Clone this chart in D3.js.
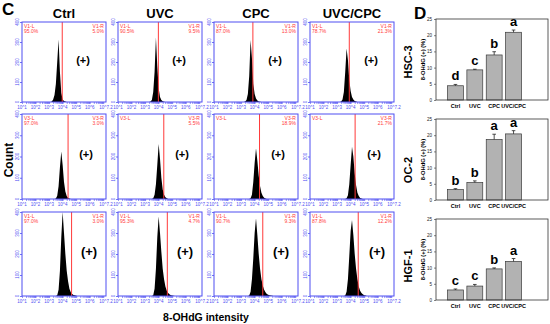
<!DOCTYPE html>
<html>
<head>
<meta charset="utf-8">
<script src="https://cdn.jsdelivr.net/npm/d3@7"></script>
<style>
body { margin: 0; background: #fff; }
svg { display: block; font-family: "Liberation Sans", Arial, sans-serif; }
</style>
</head>
<body>
<svg width="550" height="324"></svg>
<script>
const treatments = ['Ctrl', 'UVC', 'CPC', 'UVC/CPC']
const cellLines = ['HSC-3', 'OC-2', 'HGF-1']

// flow histograms: counts per 0.1 decade bin, first bin at 10^3.0
const binStart = 3.0
const binStep = 0.1
const hsc3Counts = [
    [0, 0, 3, 12, 35, 90, 200, 313, 150, 45, 12, 5, 2, 0],
    [0, 0, 0, 0, 2, 10, 50, 150, 323, 180, 70, 25, 10, 4, 1, 0],
    [0, 0, 0, 2, 10, 40, 130, 310, 220, 90, 40, 18, 8, 3, 1, 0],
    [0, 0, 0, 2, 12, 50, 150, 268, 210, 110, 55, 25, 12, 5, 2, 0]
]
const oc2Counts = [
    [0, 0, 0, 0, 0, 2, 15, 60, 150, 223, 160, 80, 35, 14, 5, 2, 0],
    [0, 0, 0, 0, 0, 0, 3, 20, 70, 160, 259, 190, 100, 45, 20, 8, 3, 0],
    [0, 0, 0, 0, 0, 0, 0, 3, 20, 80, 170, 239, 180, 110, 60, 30, 14, 6, 2, 0],
    [0, 0, 0, 0, 0, 0, 0, 3, 18, 70, 160, 246, 200, 120, 65, 30, 14, 5, 2, 0]
]
const hgf1Counts = [
    [0, 0, 0, 0, 0, 0, 3, 30, 120, 280, 400, 300, 200, 120, 70, 35, 18, 10, 5, 3, 1, 0],
    [0, 0, 0, 0, 0, 0, 3, 35, 130, 280, 378, 300, 210, 130, 80, 45, 25, 14, 8, 4, 2, 1, 0],
    [0, 0, 0, 0, 0, 0, 2, 20, 80, 180, 300, 370, 290, 200, 130, 80, 50, 30, 18, 10, 6, 3, 2, 1, 0],
    [0, 0, 0, 0, 0, 0, 2, 20, 80, 190, 310, 362, 290, 200, 130, 80, 45, 25, 14, 8, 4, 2, 0]
]
// gate position (log10 of intensity)
const gateLog = [
    [3.97, 3.98, 3.87, 3.9],
    [4.4, 4.38, 4.36, 4.33],
    [4.66, 4.64, 4.6, 4.56]
]
const gateNames = ['V1', 'V3', 'V1']
const leftPct = [
    ['95.0%', '90.5%', '87.0%', '78.7%'],
    ['97.0%', '', '', ''],
    ['97.0%', '95.3%', '90.7%', '87.8%']
]
const rightPct = [
    ['5.0%', '9.5%', '13.0%', '21.3%'],
    ['3.0%', '5.5%', '18.9%', '21.7%'],
    ['3.0%', '4.7%', '9.3%', '12.2%']
]
const countTicks = [0, 100, 200, 300, 400]
const decadeLabels = [1, 2, 3, 4, 5, 6, 7]

// bar charts: 8-OHdG (+) (%)
const hsc3Mean = [4.4, 9.3, 13.9, 20.9]
const hsc3Err = [0.4, 0.2, 1.0, 0.7]
const oc2Mean = [3.2, 5.4, 18.7, 20.4]
const oc2Err = [0.3, 0.5, 1.6, 1.0]
const hgf1Mean = [3.1, 4.3, 9.6, 11.9]
const hgf1Err = [0.3, 0.5, 0.3, 0.9]
const hsc3Letters = ['d', 'c', 'b', 'a']
const oc2Letters = ['b', 'b', 'a', 'a']
const hgf1Letters = ['c', 'c', 'b', 'a']
const pctTicks = [0, 5, 10, 15, 20, 25]

const histData = [hsc3Counts, oc2Counts, hgf1Counts]
const barData = [
    { mean: hsc3Mean, err: hsc3Err, letters: hsc3Letters },
    { mean: oc2Mean, err: oc2Err, letters: oc2Letters },
    { mean: hgf1Mean, err: hgf1Err, letters: hgf1Letters }
]

const blue = '#4f4ff2'
const red = '#ff3a3a'

let svg = d3.select('svg')

// ---- panel C: flow histograms ----
let colLeft = [22, 118, 214, 310]
let panelW = 84
let rowTop = [22, 114, 212]
let rowH = [80, 85, 84]

svg.append('text').text('C')
    .attr('x', 2).attr('y', 15)
    .attr('font-size', 17).attr('font-weight', 'bold')

treatments.forEach((t, c) => {
    svg.append('text').text(t)
        .attr('x', colLeft[c] + panelW / 2).attr('y', 18)
        .attr('text-anchor', 'middle')
        .attr('font-size', 13).attr('font-weight', 'bold')
})

let minorTicks = []
for (let d = 1; d <= 7; d++) {
    for (let k = 1; k <= 9; k++) {
        let v = k * Math.pow(10, d)
        if (v <= Math.pow(10, 7.2)) minorTicks.push(v)
    }
}

histData.forEach((row, r) => {
    row.forEach((counts, c) => {
        let left = colLeft[c]
        let top = rowTop[r]
        let h = rowH[r]
        let x = d3.scaleLog()
            .domain([10, Math.pow(10, 7.2)])
            .range([left, left + panelW])
        let y = d3.scaleLinear()
            .domain([0, 400])
            .range([top + h, top])

        let g = svg.append('g')
        let clipId = 'clip' + r + c
        g.append('clipPath').attr('id', clipId)
            .append('rect')
            .attr('x', left).attr('y', top)
            .attr('width', panelW).attr('height', h)

        let area = d3.area()
            .x((d, i) => x(Math.pow(10, binStart + i * binStep)))
            .y0(y(0))
            .y1(d => y(d))

        g.append('path')
            .datum(counts)
            .attr('d', area)
            .attr('fill', '#000')
            .attr('clip-path', 'url(#' + clipId + ')')

        // gate
        let gx = x(Math.pow(10, gateLog[r][c]))
        g.append('line')
            .attr('x1', gx).attr('x2', gx)
            .attr('y1', top).attr('y2', top + h)
            .attr('stroke', red).attr('stroke-width', 1)

        // frame
        g.append('rect')
            .attr('x', left).attr('y', top)
            .attr('width', panelW).attr('height', h)
            .attr('fill', 'none')
            .attr('stroke', blue).attr('stroke-width', 1)

        // x axis
        let xAxis = g.append('g')
            .attr('transform', 'translate(0,' + (top + h) + ')')
            .call(d3.axisBottom(x).tickValues(minorTicks).tickSize(2).tickFormat(''))
        xAxis.select('.domain').remove()
        xAxis.selectAll('line').attr('stroke', blue).attr('stroke-width', 0.6)

        decadeLabels.concat([7.2]).forEach(d => {
            if (d === 7) return
            g.append('text')
                .attr('x', x(Math.pow(10, d)))
                .attr('y', top + h + 7)
                .attr('text-anchor', 'middle')
                .attr('font-size', 4.5)
                .attr('fill', blue)
                .text(d === 7.2 ? '10^7.2' : '10^' + d)
        })

        // y axis
        let yAxis = g.append('g')
            .attr('transform', 'translate(' + left + ',0)')
            .call(d3.axisLeft(y).tickValues(countTicks).tickSize(2).tickFormat(''))
        yAxis.select('.domain').remove()
        yAxis.selectAll('line').attr('stroke', blue).attr('stroke-width', 0.8)
        countTicks.forEach(v => {
            g.append('text')
                .attr('transform', 'translate(' + (left - 3.5) + ',' + y(v) + ') rotate(-90)')
                .attr('text-anchor', 'middle')
                .attr('font-size', 4.5)
                .attr('fill', blue)
                .text(v)
        })

        // gate labels
        g.append('text').text(gateNames[r] + '-L')
            .attr('x', left + 2).attr('y', top + 5.5)
            .attr('font-size', 5).attr('fill', red)
        g.append('text').text(leftPct[r][c])
            .attr('x', left + 2).attr('y', top + 10.5)
            .attr('font-size', 5).attr('fill', red)
        g.append('text').text(gateNames[r] + '-R')
            .attr('x', left + panelW - 2).attr('y', top + 5.5)
            .attr('text-anchor', 'end')
            .attr('font-size', 5).attr('fill', red)
        g.append('text').text(rightPct[r][c])
            .attr('x', left + panelW - 2).attr('y', top + 10.5)
            .attr('text-anchor', 'end')
            .attr('font-size', 5).attr('fill', red)

        g.append('text').text('(+)')
            .attr('x', left + 61 + r * 3).attr('y', top + h * 0.52)
            .attr('text-anchor', 'middle')
            .attr('font-size', r == 2 ? 13 : 11).attr('font-weight', 'bold')
    })
})

svg.append('text').text('Count')
    .attr('transform', 'translate(13,160) rotate(-90)')
    .attr('text-anchor', 'middle')
    .attr('font-size', 12).attr('font-weight', 'bold')

svg.append('text').text('8-OHdG intensity')
    .attr('x', 206).attr('y', 321)
    .attr('text-anchor', 'middle')
    .attr('font-size', 10.5).attr('font-weight', 'bold')

// ---- panel D: bar charts ----
svg.append('text').text('D')
    .attr('x', 414).attr('y', 19)
    .attr('font-size', 17).attr('font-weight', 'bold')

let barLeft = 436
let barRight = 548
let barTop = [19, 119, 219]
let barH = 81
let labelY = [62, 170, 266]

barData.forEach((bd, r) => {
    let top = barTop[r]
    let x = d3.scaleBand()
        .domain(treatments)
        .range([447.5, 521.5])
        .paddingInner(0.18)
    let y = d3.scaleLinear()
        .domain([0, 25])
        .range([top + barH, top])

    let g = svg.append('g')

    g.selectAll('rect.bar')
        .data(bd.mean)
        .enter()
        .append('rect')
        .attr('class', 'bar')
        .attr('x', (d, i) => x(treatments[i]))
        .attr('y', d => y(d))
        .attr('width', x.bandwidth())
        .attr('height', d => y(0) - y(d))
        .attr('fill', '#b2b2b2')
        .attr('stroke', '#3a3a3a')
        .attr('stroke-width', 0.7)

    g.selectAll('line.err')
        .data(bd.mean)
        .enter()
        .append('line')
        .attr('class', 'err')
        .attr('x1', (d, i) => x(treatments[i]) + x.bandwidth() / 2)
        .attr('x2', (d, i) => x(treatments[i]) + x.bandwidth() / 2)
        .attr('y1', d => y(d))
        .attr('y2', (d, i) => y(d + bd.err[i]))
        .attr('stroke', '#222').attr('stroke-width', 0.8)

    g.selectAll('line.cap')
        .data(bd.mean)
        .enter()
        .append('line')
        .attr('class', 'cap')
        .attr('x1', (d, i) => x(treatments[i]) + x.bandwidth() / 2 - 1.8)
        .attr('x2', (d, i) => x(treatments[i]) + x.bandwidth() / 2 + 1.8)
        .attr('y1', (d, i) => y(d + bd.err[i]))
        .attr('y2', (d, i) => y(d + bd.err[i]))
        .attr('stroke', '#222').attr('stroke-width', 0.8)

    g.selectAll('text.letter')
        .data(bd.letters)
        .enter()
        .append('text')
        .attr('class', 'letter')
        .attr('x', (d, i) => x(treatments[i]) + x.bandwidth() / 2)
        .attr('y', (d, i) => y(bd.mean[i] + bd.err[i]) - 4)
        .attr('text-anchor', 'middle')
        .attr('font-size', 13).attr('font-weight', 'bold')
        .text(d => d)

    // frame
    g.append('rect')
        .attr('x', barLeft).attr('y', top)
        .attr('width', barRight - barLeft).attr('height', barH)
        .attr('fill', 'none')
        .attr('stroke', '#333').attr('stroke-width', 0.8)

    let yAxis = g.append('g')
        .attr('transform', 'translate(' + barLeft + ',0)')
        .call(d3.axisLeft(y).tickValues(pctTicks).tickSize(2).tickPadding(2))
    yAxis.select('.domain').remove()
    yAxis.selectAll('line').attr('stroke', '#333').attr('stroke-width', 0.6)
    yAxis.selectAll('text').attr('font-size', 4.5).attr('fill', '#222')
        .style('font-family', '"Liberation Sans", Arial, sans-serif')

    treatments.forEach((t, i) => {
        g.append('text').text(t)
            .attr('x', x(t) + x.bandwidth() / 2)
            .attr('y', top + barH + 8)
            .attr('text-anchor', 'middle')
            .attr('font-size', 5.5).attr('font-weight', 'bold')
    })

    g.append('text').text('8-OHdG (+) (%)')
        .attr('transform', 'translate(425,' + (top + barH / 2) + ') rotate(-90)')
        .attr('text-anchor', 'middle')
        .attr('font-size', 5.8).attr('font-weight', 'bold')

    g.append('text').text(cellLines[r])
        .attr('transform', 'translate(412,' + labelY[r] + ') rotate(-90)')
        .attr('text-anchor', 'middle')
        .attr('font-size', 11).attr('font-weight', 'bold')
})
</script>
</body>
</html>
